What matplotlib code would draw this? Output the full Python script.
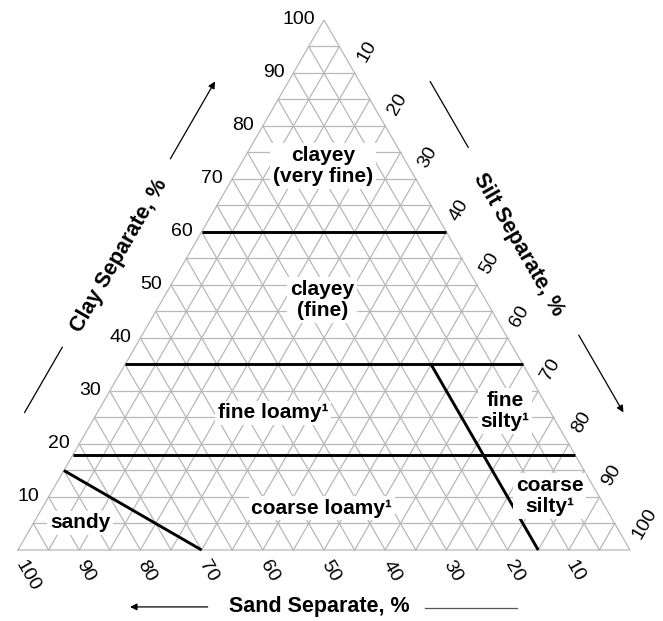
import numpy as np
import matplotlib
matplotlib.use("Agg")
import matplotlib.pyplot as plt

plt.rcParams['font.family'] = ['Liberation Sans', 'DejaVu Sans']

# family particle-size classes, percent (silt, clay) of boundary lines
boundary_silt = [[0, 40], [0, 65], [0, 82], [0, 30], [50, 85]]
boundary_clay = [[60, 60], [35, 35], [18, 18], [15, 0], [35, 0]]

class_names = ['clayey\n(very fine)', 'clayey\n(fine)', 'fine loamy\u00b9', 'fine\nsilty\u00b9',
               'coarse loamy\u00b9', 'coarse\nsilty\u00b9', 'sandy']
class_silt = [13.6, 26.1, 28.7, 66.5, 45.7, 81.8, 7.6]
class_clay = [72.4, 47.2, 25.9, 26.2, 7.9, 10.2, 5.1]

tick_values = [10, 20, 30, 40, 50, 60, 70, 80, 90, 100]
grid_values = np.arange(5, 100, 5)

h = np.sqrt(3) / 2


def xy(silt, clay):
    silt = np.asarray(silt, dtype=float) / 100
    clay = np.asarray(clay, dtype=float) / 100
    return silt + clay / 2, clay * h


def left_pt(t, n):
    # along clay edge, t = clay fraction, n = outward offset
    return t / 2 - n * h, t * h + n * 0.5


def right_pt(t, n):
    # along silt edge, t = silt fraction from the top
    return 0.5 + t / 2 + n * h, h * (1 - t) + n * 0.5


fig = plt.figure(figsize=(6.63, 6.21), dpi=100)
ax = fig.add_axes([0, 0, 1, 1])
ax.set_xlim(-18 / 612, 645 / 612)
ax.set_ylim(-71 / 612, 550 / 612)
ax.set_aspect('equal')
ax.axis('off')

grid_kw = dict(color='#b8b8b8', lw=0.9, zorder=1)
for v in grid_values:
    ax.plot(*xy([0, 100 - v], [v, v]), **grid_kw)            # clay
    ax.plot(*xy([v, v], [0, 100 - v]), **grid_kw)            # silt
    ax.plot(*xy([100 - v, 0], [0, 100 - v]), **grid_kw)      # sand
ax.plot(*xy([0, 100, 0, 0], [0, 0, 100, 0]), **grid_kw)

for s, c in zip(boundary_silt, boundary_clay):
    ax.plot(*xy(s, c), color='black', lw=2.1, zorder=3, solid_capstyle='butt')

for name, s, c in zip(class_names, class_silt, class_clay):
    x, y = xy(s, c)
    ax.text(x, y, name, ha='center', va='center', ma='center', fontsize=15,
            fontweight='bold', linespacing=1.15, zorder=4,
            bbox=dict(facecolor='white', edgecolor='none', pad=2))

px = 1 / 612
for v in tick_values:
    # clay
    x, y = xy(0, v)
    ax.text(x - 9 * px, y, str(v), ha='right', va='center', fontsize=14)
    # silt
    x, y = xy(v, 100 - v)
    ax.text(x + 7 * px, y + 12 * px, str(v), ha='left', va='center', fontsize=14,
            rotation=60, rotation_mode='anchor')
    # sand
    x, y = xy(100 - v, 0)
    ax.text(x + 1 * px, y - 12 * px, str(v), ha='left', va='center', fontsize=14,
            rotation=-60, rotation_mode='anchor')

title_kw = dict(fontsize=15.5, fontweight='bold', ha='center', va='center')
ax.text(*left_pt(0.50, 0.097), 'Clay Separate, %', rotation=60, **title_kw)
ax.text(*right_pt(0.477, 0.092), 'Silt Separate, %', rotation=-60, **title_kw)
ax.text(0.493, -0.093, 'Sand Separate, %', **title_kw)

arrow_kw = dict(arrowstyle='-|>', color='black', lw=0.9, mutation_scale=10,
                shrinkA=0, shrinkB=0)
ax.plot(*zip(left_pt(0.20, 0.103), left_pt(0.323, 0.103)), color='black', lw=0.9)
ax.annotate('', xy=left_pt(0.824, 0.104), xytext=left_pt(0.678, 0.104), arrowprops=arrow_kw)
ax.plot(*zip(right_pt(0.174, 0.10), right_pt(0.298, 0.10)), color='black', lw=0.9)
ax.annotate('', xy=right_pt(0.80, 0.103), xytext=right_pt(0.654, 0.103), arrowprops=arrow_kw)
ax.annotate('', xy=(0.183, -0.093), xytext=(0.31, -0.093), arrowprops=arrow_kw)
ax.plot([0.665, 0.815], [-0.094, -0.094], color='#555555', lw=0.9)

fig.savefig('out.png', dpi=100)
